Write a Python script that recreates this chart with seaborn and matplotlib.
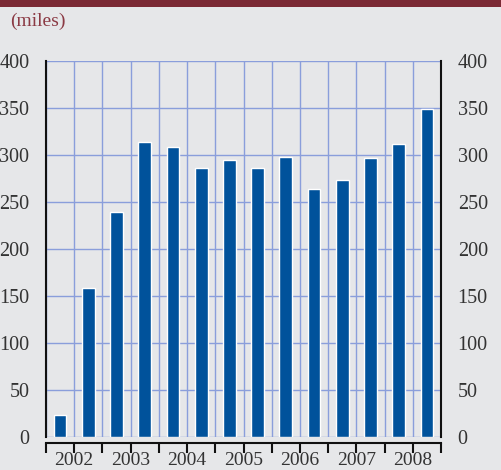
import matplotlib
matplotlib.use("Agg")
import matplotlib.pyplot as plt
from matplotlib.patches import Rectangle
from matplotlib.ticker import FixedLocator
import seaborn as sns
import pandas as pd

# Half-year periods and distance values (miles)
periods = ["2002 H1", "2002 H2", "2003 H1", "2003 H2", "2004 H1", "2004 H2",
           "2005 H1", "2005 H2", "2006 H1", "2006 H2", "2007 H1", "2007 H2",
           "2008 H1", "2008 H2"]
miles = [23, 159, 239, 314, 308, 286, 295, 286, 298, 264, 273, 297, 312, 349]
years = ["2002", "2003", "2004", "2005", "2006", "2007", "2008"]
y_ticks = [0, 50, 100, 150, 200, 250, 300, 350, 400]

BG = "#e6e7e9"
BAR = "#00529b"
GRID = "#8a9edb"
RED = "#7b2a35"
TXT = "#333333"

sns.set_theme(style="white")
plt.rcParams["font.family"] = ["Liberation Serif", "DejaVu Serif"]

W, H = 501, 470
fig = plt.figure(figsize=(W / 100, H / 100), dpi=100, facecolor=BG)
ax = fig.add_axes([46 / W, 33 / H, 395 / W, 376 / H])
ax.set_facecolor(BG)

df = pd.DataFrame({"period": periods, "miles": miles})
sns.barplot(data=df, x="period", y="miles", color=BAR, saturation=1,
            width=0.45, edgecolor="white", linewidth=1.0, ax=ax, zorder=3)

n = len(periods)
ax.set_xlim(-0.5, n - 0.5)
ax.set_ylim(0, 400)
ax.set_xlabel("")
ax.set_ylabel("")

# Year labels sit on the boundary between the two halves of each year
major = [2 * i + 0.5 for i in range(len(years))]
boundaries = [i - 0.5 for i in range(n + 1)]
ax.xaxis.set_major_locator(FixedLocator(major))
ax.set_xticklabels(years)
ax.xaxis.set_minor_locator(FixedLocator(boundaries))
ax.set_yticks(y_ticks)

ax.set_axisbelow(True)
ax.grid(True, axis="x", which="both", color=GRID, linewidth=1.0)
ax.grid(True, axis="y", which="major", color=GRID, linewidth=1.0)

ax.tick_params(axis="x", which="both", direction="out", length=7, width=1.5,
               color="#111111", bottom=True, pad=0, labelsize=14,
               labelcolor=TXT)
ax.tick_params(axis="y", which="both", left=False, right=False,
               labelleft=True, labelright=True, labelsize=14.5,
               labelcolor=TXT, pad=6)

for side in ("left", "right"):
    ax.spines[side].set_color("#111111")
    ax.spines[side].set_linewidth(1.5)
ax.spines["top"].set_visible(False)
ax.spines["bottom"].set_color("#111111")
ax.spines["bottom"].set_linewidth(1.5)
ax.spines["bottom"].set_position(("outward", 4))

# Header band and unit label
fig.patches.append(Rectangle((0, 1 - 7 / H), 1, 7 / H, transform=fig.transFigure,
                             facecolor=RED, edgecolor="none"))
fig.text(10 / W, 1 - 21 / H, "(miles)", color="#8b3a44", fontsize=14,
         ha="left", va="center")

fig.savefig("out.png", dpi=100, facecolor=BG)
